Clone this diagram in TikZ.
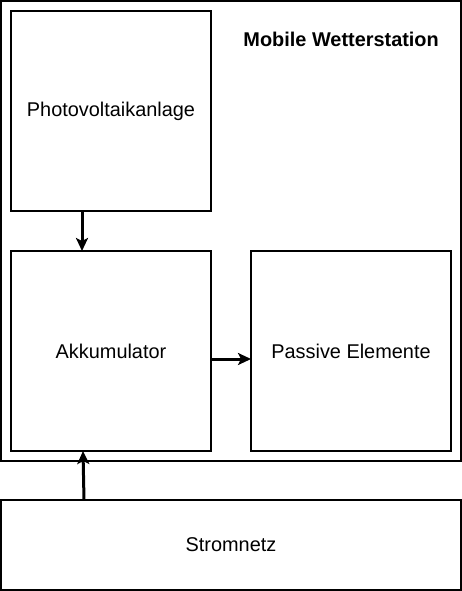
\documentclass[tikz,border=0pt]{standalone}
\usepackage{fontspec}
\setmainfont{Liberation Sans}
\usetikzlibrary{arrows.meta}
\begin{document}
\begin{tikzpicture}[x=1pt,y=-1pt,
  box/.style={draw=black,line width=1.6pt,minimum width=#1,inner sep=0pt},
  lbl/.style={font=\fontsize{19.9}{24}\selectfont},
  conn/.style={line width=3pt,-{Stealth[length=13pt,width=12pt,inset=3pt]}}]
\useasboundingbox (0,0) rectangle (462,591);
\node[draw=black,line width=1.6pt,minimum width=460pt,minimum height=460pt,inner sep=0pt] (station) at (231,231) {};
\node[lbl,font=\fontsize{19.9}{24}\selectfont\bfseries,anchor=base east,inner sep=0pt] (title) at (439,46.5) {Mobile Wetterstation};
\node[draw=black,line width=1.6pt,minimum width=200pt,minimum height=200pt,inner sep=0pt,lbl] (pv) at (111,111) {Photovoltaikanlage};
\node[draw=black,line width=1.6pt,minimum width=200pt,minimum height=200pt,inner sep=0pt,lbl] (akku) at (111,351) {Akkumulator};
\node[draw=black,line width=1.6pt,minimum width=200pt,minimum height=200pt,inner sep=0pt,lbl] (pass) at (351,351) {Passive Elemente};
\node[draw=black,line width=1.6pt,minimum width=460pt,minimum height=90pt,inner sep=0pt,lbl] (strom) at (231,545) {Stromnetz};
\coordinate (pvout) at (82,211);
\coordinate (akkuin) at (82,251);
\draw[conn] (pvout) -- (akkuin);
\coordinate (akkuout) at (211,359);
\coordinate (passin) at (251,359);
\draw[conn] (akkuout) -- (passin);
\coordinate (stromout) at (84,500);
\coordinate (akkuin2) at (83,451);
\draw[conn] (stromout) -- (akkuin2);
\end{tikzpicture}
\end{document}
